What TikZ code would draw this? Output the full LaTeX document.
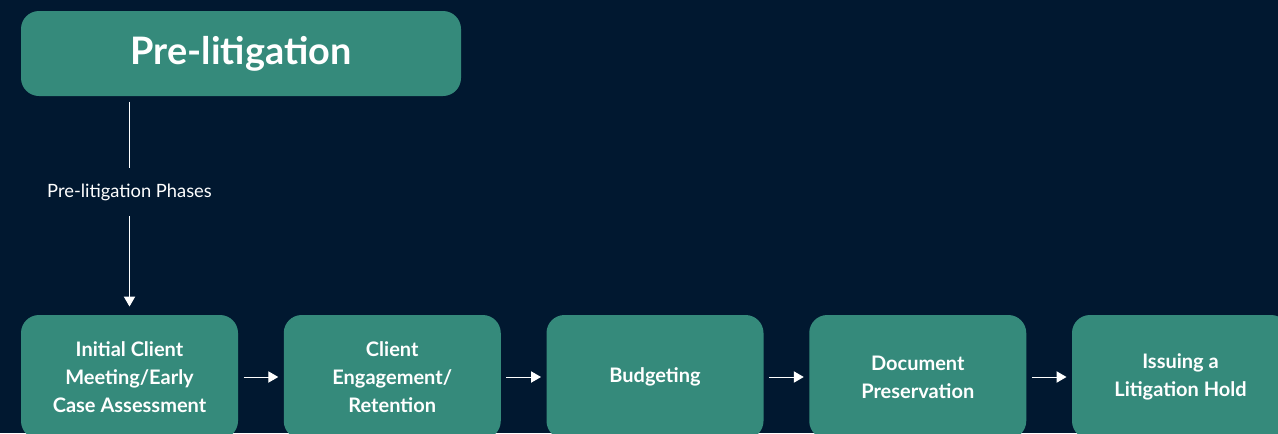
\documentclass[tikz,border=0pt]{standalone}
\usepackage{fontspec}
\setmainfont{Lato}
\usetikzlibrary{arrows.meta}

\definecolor{navybg}{RGB}{1,24,48}
\definecolor{phaseteal}{RGB}{53,138,123}

\tikzset{every picture/.style={line width=0.75pt}}
\tikzset{
  phasebox/.style={fill=phaseteal, rounded corners=13.5pt, minimum width=162.75pt, minimum height=93pt,
    align=center, text=white, font=\bfseries\fontsize{15}{21}\selectfont},
  headbox/.style={fill=phaseteal, rounded corners=13.5pt, minimum width=330pt, minimum height=63.75pt,
    text=white, font=\bfseries\fontsize{28.4}{32}\selectfont},
  flow/.style={draw=white, -{Triangle[length=7.5pt,width=8.5pt]}}
}

\begin{document}
\begin{tikzpicture}[x=0.75pt,y=0.75pt,yscale=-1,xscale=1]
\useasboundingbox (0,0) rectangle (1278,433);
\fill[navybg] (0,0) rectangle (1278,433);
\clip (0,0) rectangle (1278,433);

% header
\node[headbox] (pre) at (241,53.5) {Pre-litigation};

% the five phases
\node[phasebox] (meeting) at (129.5,377) {Initial Client\\Meeting/Early\\Case Assessment};
\node[phasebox] (engage) at (392.25,377) {Client\\Engagement/\\Retention};
\node[phasebox] (budget) at (655,377) {Budgeting};
\node[phasebox] (preserve) at (917.75,377) {Document\\Preservation};
\node[phasebox] (hold) at (1180.5,377) {Issuing a\\Litigation Hold};

% header down to first phase
\draw[flow, shorten <=3.75pt, shorten >=6pt] (meeting |- pre.south) -- node[pos=0.438, fill=navybg, text=white, inner ysep=12pt,
  font=\fontsize{13.75}{16}\selectfont] (phaselbl) {Pre-litigation Phases} (meeting.north);

% phase to phase
\draw[flow, shorten <=3.75pt, shorten >=3.75pt] (meeting) -- (engage);
\draw[flow, shorten <=3.75pt, shorten >=3.75pt] (engage) -- (budget);
\draw[flow, shorten <=3.75pt, shorten >=3.75pt] (budget) -- (preserve);
\draw[flow, shorten <=3.75pt, shorten >=3.75pt] (preserve) -- (hold);

\end{tikzpicture}
\end{document}
